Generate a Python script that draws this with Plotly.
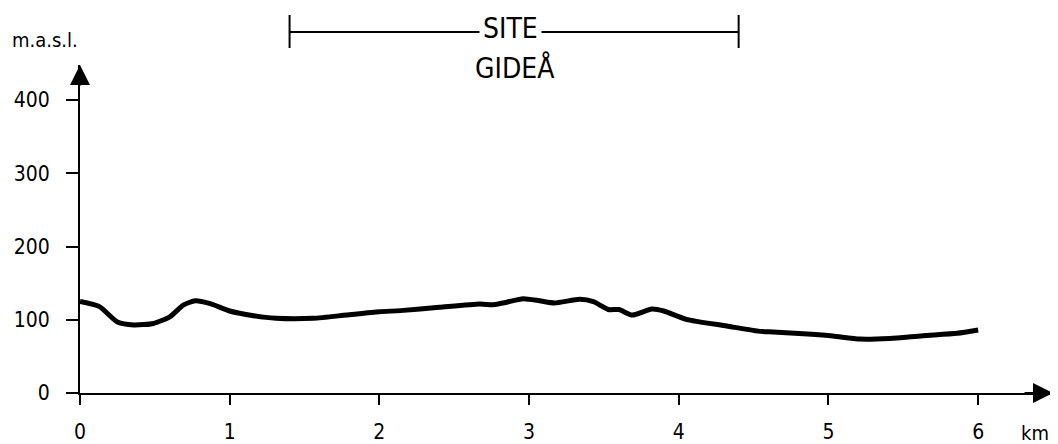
import plotly.graph_objects as go

# Terrain profile (km, m.a.s.l.)
distance_km = [0.0, 0.13, 0.25, 0.36, 0.49, 0.60, 0.69, 0.77, 0.87, 1.00, 1.16, 1.31,
               1.56, 1.78, 2.00, 2.14, 2.40, 2.67, 2.76, 2.85, 2.96, 3.07, 3.17, 3.34,
               3.43, 3.53, 3.60, 3.69, 3.82, 3.90, 4.05, 4.32, 4.53, 4.63, 4.86, 5.03,
               5.21, 5.41, 5.63, 5.86, 6.00]
elevation_m = [125, 118, 97, 93, 95, 104, 120, 126, 122, 112, 105.5, 102,
               102, 106.5, 111, 112.5, 117, 121.5, 120.6, 124, 128.8, 126, 123, 128,
               124.7, 114, 114, 106.5, 114.7, 112, 100.6, 91.5, 84.5, 83.3, 80.5, 77.8,
               73.7, 74.6, 78.3, 81.5, 86]

x_ticks = [0, 1, 2, 3, 4, 5, 6]
y_ticks = [0, 100, 200, 300, 400]
site_start_km, site_end_km = 1.4, 4.4
site_label = "SITE"
site_name = "GIDEÅ"
x_unit = "km"
y_unit = "m.a.s.l."

X_MAX = 6.5
Y_MAX = 448
FONT = "DejaVu Sans Condensed"

# page body adds an 8px offset; figure sized to fit the 1058x444 window
OFF = 8
W, H = 1058 - OFF, 444 - OFF
ML, MT = 80 - OFF, 65 - OFF
MR = W - (1053 - OFF)
MB = H - (393 - OFF)
PW, PH = W - ML - MR, H - MT - MB


def paper_x(ref_pix):
    return (ref_pix - OFF - ML) / PW


def paper_y(ref_pix):
    return (H - MB - (ref_pix - OFF)) / PH


fig = go.Figure()
fig.add_trace(go.Scatter(
    x=distance_km, y=elevation_m, mode="lines",
    line=dict(color="black", width=5, shape="spline", smoothing=0.6),
    hoverinfo="skip", showlegend=False,
))

fig.update_layout(
    width=W, height=H,
    margin=dict(l=ML, r=MR, t=MT, b=MB, autoexpand=False),
    paper_bgcolor="white", plot_bgcolor="white",
    font=dict(family=FONT, size=21, color="black"),
    xaxis=dict(range=[0, X_MAX], showgrid=False, zeroline=False, automargin=False,
               showline=True, linecolor="black", linewidth=2,
               tickvals=x_ticks, ticktext=[str(v) for v in x_ticks],
               ticks="outside", ticklen=10, tickwidth=2, tickcolor="black",
               ticklabelstandoff=9),
    yaxis=dict(range=[0, Y_MAX], showgrid=False, zeroline=False, automargin=False,
               showline=True, linecolor="black", linewidth=2,
               tickvals=y_ticks, ticktext=[str(v) for v in y_ticks],
               ticks="outside", ticklen=12, tickwidth=2, tickcolor="black",
               ticklabelstandoff=12),
)

# axis arrowheads
fig.add_annotation(x=X_MAX, y=0, ax=X_MAX - 0.2, ay=0, xref="x", yref="y",
                   axref="x", ayref="y", showarrow=True, arrowhead=2,
                   arrowsize=2, arrowwidth=2, arrowcolor="black", text="")
fig.add_annotation(x=0, y=Y_MAX, ax=0, ay=Y_MAX - 30, xref="x", yref="y",
                   axref="x", ayref="y", showarrow=True, arrowhead=2,
                   arrowsize=2, arrowwidth=2, arrowcolor="black", text="")


def label(ref_x, ref_y, text, size, **kw):
    fig.add_annotation(x=paper_x(ref_x), y=paper_y(ref_y), xref="paper", yref="paper",
                       xanchor="center", yanchor="middle", text=text,
                       showarrow=False, font=dict(size=size), **kw)


# unit labels
label(45, 40, y_unit, 20)
label(1035, 433, x_unit, 20)

# site bracket
px0 = site_start_km / X_MAX
px1 = site_end_km / X_MAX
fig.add_shape(type="line", xref="paper", yref="paper", x0=px0, x1=px1,
              y0=paper_y(32), y1=paper_y(32), line=dict(color="black", width=2))
for xv in (px0, px1):
    fig.add_shape(type="line", xref="paper", yref="paper", x0=xv, x1=xv,
                  y0=paper_y(15), y1=paper_y(48), line=dict(color="black", width=2))

label(510, 29, site_label, 28, bgcolor="white", borderpad=3)
label(515, 68, site_name, 28)

fig.write_html("out.html")
